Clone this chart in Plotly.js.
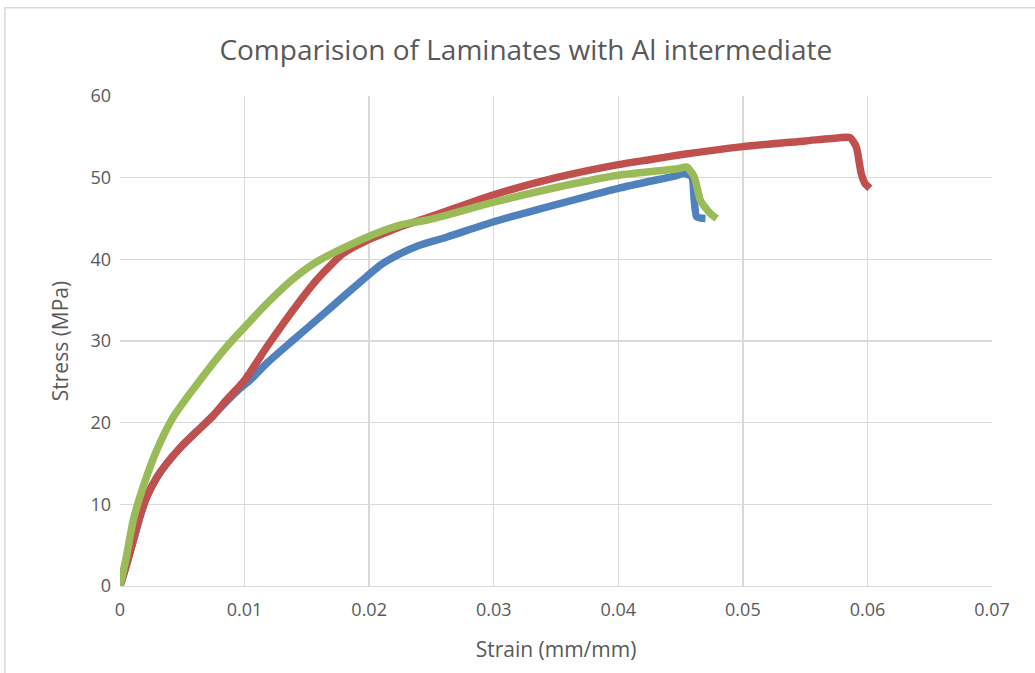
<!DOCTYPE html>
<html>
<head>
<meta charset="utf-8">
<script src="https://cdn.plot.ly/plotly-3.0.1.min.js"></script>
<style>html,body{margin:0;padding:0;background:#fff;}#chart{width:1035px;height:673px;}</style>
</head>
<body>
<div id="chart"></div>
<script>
// Series 1 (blue)
var blueStrain = [0,0.0005,0.00107,0.0016,0.00214,0.003,0.00375,0.005,0.00642,0.0075,0.00856,0.0095,0.0105,0.0118,0.0139,0.0158,0.0179,0.0198,0.0209,0.0225,0.0240,0.0262,0.03,0.035,0.04,0.0445,0.0453,0.0459,0.0461,0.0463,0.047];
var blueStress = [0,2.5,5.6,8.5,10.9,13.4,15.0,17.2,19.3,20.9,22.6,24.0,25.3,27.3,30.1,32.6,35.4,37.9,39.3,40.7,41.7,42.7,44.6,46.7,48.7,50.2,50.5,50.1,47.2,45.2,45.0];
// Series 2 (red)
var redStrain = [0,0.0005,0.00107,0.0016,0.00214,0.003,0.00375,0.005,0.00642,0.0075,0.00856,0.01,0.0118,0.0139,0.0158,0.0179,0.0198,0.0209,0.0225,0.0249,0.03,0.035,0.04,0.0425,0.045,0.05,0.055,0.0578,0.0586,0.0591,0.0595,0.0598,0.0602];
var redStress = [0,2.5,5.6,8.5,10.9,13.4,15.0,17.2,19.3,20.9,22.8,25.2,29.3,33.8,37.5,40.7,42.3,43.0,44.0,45.2,47.9,50.0,51.6,52.2,52.8,53.8,54.5,54.9,54.9,53.8,50.5,49.3,48.7];
// Series 3 (green)
var greenStrain = [0,0.0005,0.00107,0.00187,0.00294,0.00428,0.00642,0.00856,0.01,0.0118,0.0139,0.0158,0.0185,0.0211,0.0225,0.0249,0.03,0.035,0.04,0.0448,0.0455,0.0461,0.0466,0.0474,0.0479];
var greenStress = [0,3.5,8.1,12.2,16.6,20.7,25.2,29.3,31.7,34.6,37.6,39.7,41.8,43.5,44.2,44.9,47.0,48.8,50.3,51.1,51.3,50.1,47.2,45.6,45.0];

var xTicks = [0,0.01,0.02,0.03,0.04,0.05,0.06,0.07];
var xTickText = ['0','0.01','0.02','0.03','0.04','0.05','0.06','0.07'];
var yTicks = [0,10,20,30,40,50,60];

var grey = '#595959';
var font = '"Open Sans", "Noto Sans", sans-serif';

function tr(x, y, c) {
  return {x: x, y: y, type: 'scatter', mode: 'lines',
    line: {color: c, width: 7.5, shape: 'spline', smoothing: 0.6},
    showlegend: false, hoverinfo: 'skip'};
}

var data = [
  tr(blueStrain, blueStress, '#4F81BD'),
  tr(redStrain, redStress, '#C0504D'),
  tr(greenStrain, greenStress, '#9BBB59')
];

var layout = {
  width: 1035, height: 673,
  margin: {l: 120, r: 43, t: 96, b: 87},
  paper_bgcolor: '#fff', plot_bgcolor: '#fff',
  font: {family: font, color: grey},
  title: {text: 'Comparision of Laminates with Al intermediate',
    font: {family: font, size: 28, color: grey},
    x: 0.508, xanchor: 'center', y: 0.925, yanchor: 'middle'},
  xaxis: {range: [0, 0.07], tickvals: xTicks, ticktext: xTickText,
    showgrid: true, gridcolor: '#d9d9d9', gridwidth: 1.3,
    showline: true, linecolor: '#d9d9d9', linewidth: 1.3, zeroline: false,
    ticks: '', tickfont: {size: 18, color: grey}, ticklabelstandoff: 7,
    title: {text: 'Strain (mm/mm)', font: {size: 21, color: grey}, standoff: 22},
    fixedrange: true},
  yaxis: {range: [0, 60], tickvals: yTicks,
    showgrid: true, gridcolor: '#d9d9d9', gridwidth: 1.3,
    showline: false, zeroline: false,
    ticks: '', tickfont: {size: 18, color: grey}, ticklabelstandoff: 8,
    title: {text: 'Stress (MPa)', font: {size: 21, color: grey}, standoff: 16},
    fixedrange: true},
  shapes: [{type: 'rect', xref: 'paper', yref: 'paper',
    x0: -0.132, x1: 1.2, y0: -0.2, y1: 1.18,
    line: {color: '#d9d9d9', width: 1.5}, fillcolor: 'rgba(0,0,0,0)', layer: 'below'}]
};

Plotly.newPlot('chart', data, layout, {displayModeBar: false, staticPlot: true});
</script>
</body>
</html>
